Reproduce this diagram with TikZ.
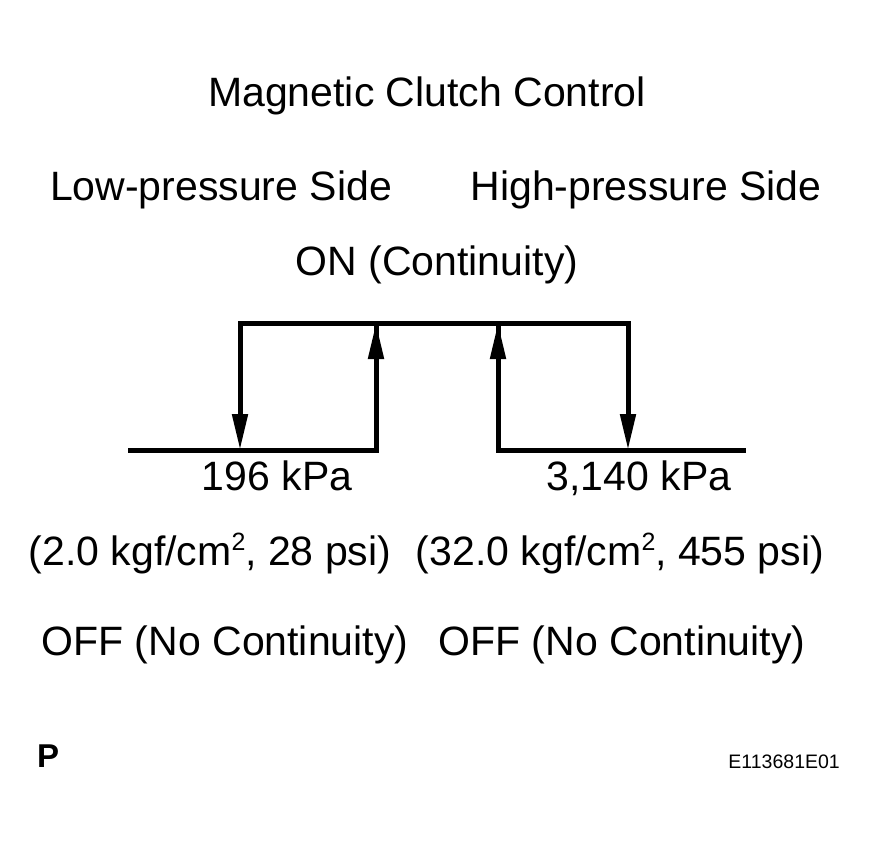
\documentclass[tikz,border=0pt]{standalone}
\usepackage{fontspec}
\setmainfont{Liberation Sans}
\usepackage{tikz}
\usetikzlibrary{arrows.meta}
\newcommand{\carre}{\raisebox{15pt}{\fontsize{25}{25}\selectfont 2}}
\tikzset{
Trait/.style={
 draw=black, 
 line width=5pt, 
 line join=miter, 
 line cap=rect
 },
Fleche/.style={
 Trait, 
 -{Triangle[length=36pt,width=15pt]}
 },
Texte/.style={
 anchor=base, 
 inner sep=0pt, 
 font=\fontsize{41}{48}\selectfont
 },
Petit/.style={
 anchor=base, 
 inner sep=0pt, 
 font=\fontsize{19.5}{22}\selectfont
 }
}
\begin{document}
\begin{tikzpicture}[x=1pt,y=-1pt]
\useasboundingbox (0,0) rectangle (876,844);
\node[Texte] (titre) at (427,106) {Magnetic Clutch Control};
\node[Texte] (basse) at (221,200) {Low-pressure Side};
\node[Texte] (haute) at (646,200) {High-pressure Side};
\node[Texte] (on) at (437,275) {ON (Continuity)};
\coordinate (hg) at (240,323);
\coordinate (hd) at (628,323);
\coordinate (mg) at (376,323);
\coordinate (md) at (498,323);
\coordinate (bg) at (130,450);
\coordinate (bd) at (743,450);
\coordinate (cg) at (240,450);
\coordinate (cd) at (628,450);
\coordinate (rg) at (376,450);
\coordinate (rd) at (498,450);
\draw[Trait] (bg) -- (rg) -- (mg);
\draw[Trait] (md) -- (rd) -- (bd);
\draw[Trait] (hg) -- (hd);
\draw[Fleche] (hg) -- (cg);
\draw[Fleche] (hd) -- (cd);
\draw[Fleche] (rg) -- (mg);
\draw[Fleche] (rd) -- (md);
\node[Texte] (kpag) at (277,490) {196 kPa};
\node[Texte] (kpad) at (639,490) {3,140 kPa};
\node[Texte] (kgfg) at (210,565) {(2.0 kgf/cm\carre, 28 psi)};
\node[Texte] (kgfd) at (620,565) {(32.0 kgf/cm\carre, 455 psi)};
\node[Texte] (offg) at (225,655) {OFF (No Continuity)};
\node[Texte] (offd) at (622,655) {OFF (No Continuity)};
\node[anchor=base west,inner sep=0pt,font=\fontsize{33}{38}\selectfont\bfseries] (p) at (37,767) {P};
\node[Petit,anchor=base east] (ref) at (840,768) {E113681E01};
\end{tikzpicture}
\end{document}
